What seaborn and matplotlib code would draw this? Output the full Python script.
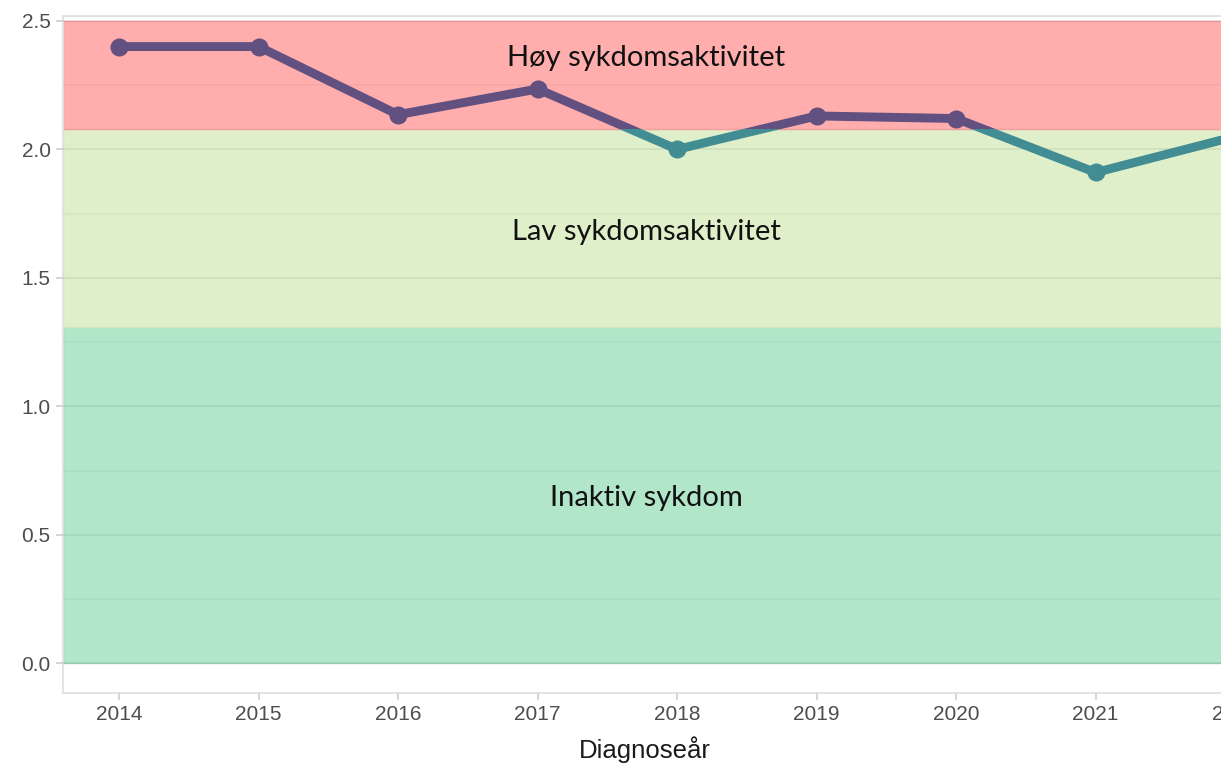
import matplotlib
matplotlib.use("Agg")
import matplotlib.pyplot as plt
from matplotlib.patches import Rectangle
from matplotlib.ticker import MultipleLocator, FormatStrFormatter
import pandas as pd
import seaborn as sns

# data
years = [2014, 2015, 2016, 2017, 2018, 2019, 2020, 2021, 2022]
mean_score = [2.40, 2.40, 2.135, 2.235, 2.00, 2.13, 2.12, 1.91, 2.05]

# disease activity bands
band_names = ["Inaktiv sykdom", "Lav sykdomsaktivitet", "Høy sykdomsaktivitet"]
band_lower = [0.0, 1.31, 2.08]
band_upper = [1.31, 2.08, 2.5]
band_label_y = [0.645, 1.68, 2.355]
band_colors = ["#B1E6C9", "#DFEFC9", "#FFADAD"]
band_edges = ["#9ED9B7", "#D3E6BA", "#F59E9E"]
high_cut = 2.08

purple = "#615080"
teal = "#428C94"

sns.set_style("white")
plt.rcParams['font.family'] = ['Liberation Sans', 'DejaVu Sans']

df = pd.DataFrame({"year": years, "score": mean_score})

fig = plt.figure(figsize=(12.21, 7.67), dpi=100)
ax = fig.add_axes([0.0518, 0.0969, 1.0055, 0.8826])

# background bands
for lo, hi, col, ec in zip(band_lower, band_upper, band_colors, band_edges):
    ax.axhspan(lo, hi, facecolor=col, edgecolor=ec, lw=1, zorder=0)

# line coloured by band: purple above the high cut, teal below
for col, lo, hi in [(purple, high_cut, 10), (teal, -10, high_cut)]:
    sns.lineplot(data=df, x="year", y="score", ax=ax, color=col, lw=6.4,
                 marker="o", markersize=13, markeredgewidth=0, zorder=3,
                 solid_joinstyle="round", solid_capstyle="round")
    line = ax.lines[-1]
    clip = Rectangle((2000, lo), 50, hi - lo, transform=ax.transData)
    line.set_clip_path(clip)

# band labels, centred on the visible part of the panel
for name, y in zip(band_names, band_label_y):
    ax.text(2017.78, y, name, ha="center", va="center", fontsize=21,
            family=["Lato", "DejaVu Sans"], color="#111111", zorder=4)

# formatting
ax.set_xlim(2013.6, 2022.4)
ax.set_ylim(-0.114, 2.52)
ax.set_xticks(years)
ax.yaxis.set_major_locator(MultipleLocator(0.5))
ax.yaxis.set_minor_locator(MultipleLocator(0.25))
ax.yaxis.set_major_formatter(FormatStrFormatter('%.1f'))
ax.set_axisbelow(False)
ax.grid(axis='y', which='major', color='k', alpha=0.07, lw=1.2)
ax.grid(axis='y', which='minor', color='k', alpha=0.035, lw=1.2)
ax.grid(axis='x', visible=False)

ax.tick_params(axis='both', which='major', labelsize=15, labelcolor='#4D4D4D',
               color='#CFCFCF', length=5, width=1.2, pad=4,
               bottom=True, left=True)
ax.tick_params(axis='y', which='minor', length=0)
for sp in ax.spines.values():
    sp.set_color('#E3E1DD')
    sp.set_linewidth(1.3)

ax.set_ylabel('')
ax.set_xlabel('Diagnoseår', fontsize=18.5, color='#1A1A1A')
ax.xaxis.set_label_coords(0.4738, -0.064)

plt.savefig('out.png', dpi=100)
